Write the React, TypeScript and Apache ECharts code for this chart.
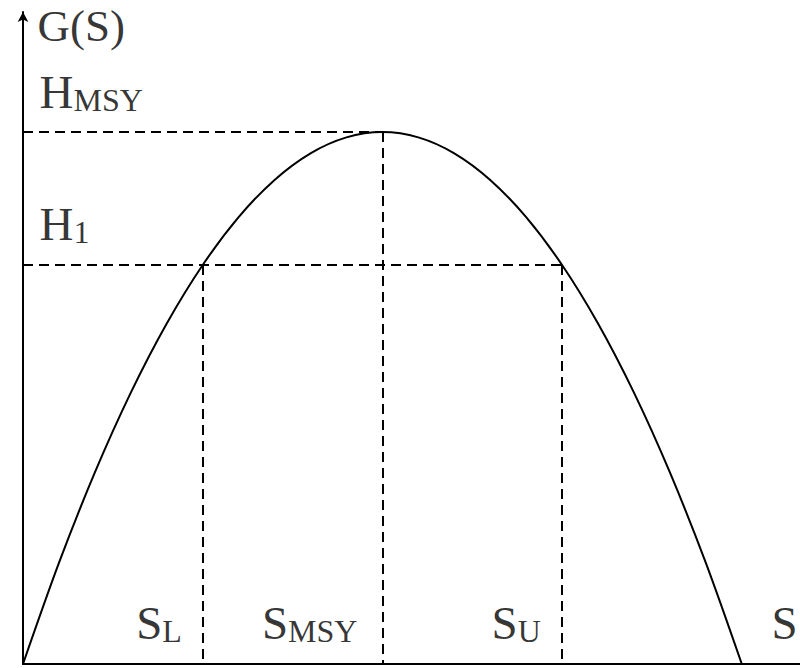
import React, { useEffect, useRef } from "react";
import * as echarts from "echarts";

// Stock level S and natural growth G(S)
const stock = [0, 0.5, 1, 1.5, 2, 2.5, 3, 3.5, 4, 4.5, 5, 5.5, 6, 6.5, 7, 7.5, 8, 8.5, 9, 9.5, 10];
const growth = [0, 4.75, 9, 12.75, 16, 18.75, 21, 22.75, 24, 24.75, 25, 24.75, 24, 22.75, 21, 18.75, 16, 12.75, 9, 4.75, 0];

// Reference levels
const hMsy = 25;
const h1 = 18.75;
const sL = 2.5;
const sMsy = 5;
const sU = 7.5;

// Axis extents
const sMax = 10.81;
const gMax = 30.64;

const SERIF = '"Liberation Serif", "DejaVu Serif", "Times New Roman", serif';

// Main symbol plus a lowered subscript
const rich = {
  b: { fontSize: 47, fontFamily: SERIF, color: "#000", lineHeight: 50, verticalAlign: "bottom" },
  s: { fontSize: 32, fontFamily: SERIF, color: "#000", lineHeight: 32, verticalAlign: "bottom" },
  g: { fontSize: 45, fontFamily: SERIF, color: "#000", lineHeight: 36, verticalAlign: "bottom" },
};

export default function App() {
  const ref = useRef<HTMLDivElement>(null);

  useEffect(() => {
    if (!ref.current) return;
    const chart = echarts.init(ref.current, undefined, { renderer: "svg" });

    const dash = { color: "#000", width: 2, type: [10, 6] as number[] };

    const labelPoint = (coord: number[], text: string, pos: number[]) => ({
      value: coord,
      label: {
        show: true,
        formatter: text,
        position: pos,
        align: "left",
        verticalAlign: "bottom",
        color: "#000",
        rich,
      },
    });

    chart.setOption({
      animation: false,
      backgroundColor: "#fff",
      grid: { left: 23, right: 0, top: 12, bottom: 4 },
      xAxis: {
        type: "value",
        min: 0,
        max: sMax,
        axisLine: { show: true, onZero: false, lineStyle: { color: "#000", width: 2 } },
        axisTick: { show: false },
        axisLabel: { show: false },
        splitLine: { show: false },
      },
      yAxis: {
        type: "value",
        min: 0,
        max: gMax,
        axisLine: {
          show: true,
          onZero: false,
          symbol: ["none", "arrow"],
          symbolSize: [8, 10],
          lineStyle: { color: "#000", width: 2 },
        },
        axisTick: { show: false },
        axisLabel: { show: false },
        splitLine: { show: false },
      },
      series: [
        {
          name: "G(S)",
          type: "line",
          data: stock.map((s, i) => [s, growth[i]]),
          smooth: 0.3,
          showSymbol: false,
          lineStyle: { color: "#000", width: 2 },
          markLine: {
            silent: true,
            symbol: "none",
            label: { show: false },
            lineStyle: dash,
            data: [
              [{ coord: [0, hMsy] }, { coord: [sMsy, hMsy] }],
              [{ coord: [sMsy, hMsy] }, { coord: [sMsy, 0] }],
              [{ coord: [0, h1] }, { coord: [sU, h1] }],
              [{ coord: [sL, h1] }, { coord: [sL, 0] }],
              [{ coord: [sU, h1] }, { coord: [sU, 0] }],
            ],
          },
        },
        {
          name: "labels",
          type: "scatter",
          silent: true,
          symbolSize: 1,
          itemStyle: { color: "rgba(0,0,0,0)" },
          data: [
            labelPoint([0, gMax], "{g|G(S)}", [15, 37]),
            labelPoint([0, hMsy], "{b|H}{s|MSY}", [17, -16]),
            labelPoint([0, h1], "{b|H}{s|1}", [17, -17]),
            labelPoint([sL, 0], "{b|S}{s|L}", [-66, -17]),
            labelPoint([sMsy, 0], "{b|S}{s|MSY}", [-120, -17]),
            labelPoint([sU, 0], "{b|S}{s|U}", [-70, -17]),
            labelPoint([sMax, 0], "{b|S}", [-28, -17]),
          ],
        },
      ],
    });

    return () => chart.dispose();
  }, []);

  return (
    <div
      ref={ref}
      style={{ position: "fixed", left: 0, top: 0, width: 800, height: 668, background: "#fff" }}
    />
  );
}
